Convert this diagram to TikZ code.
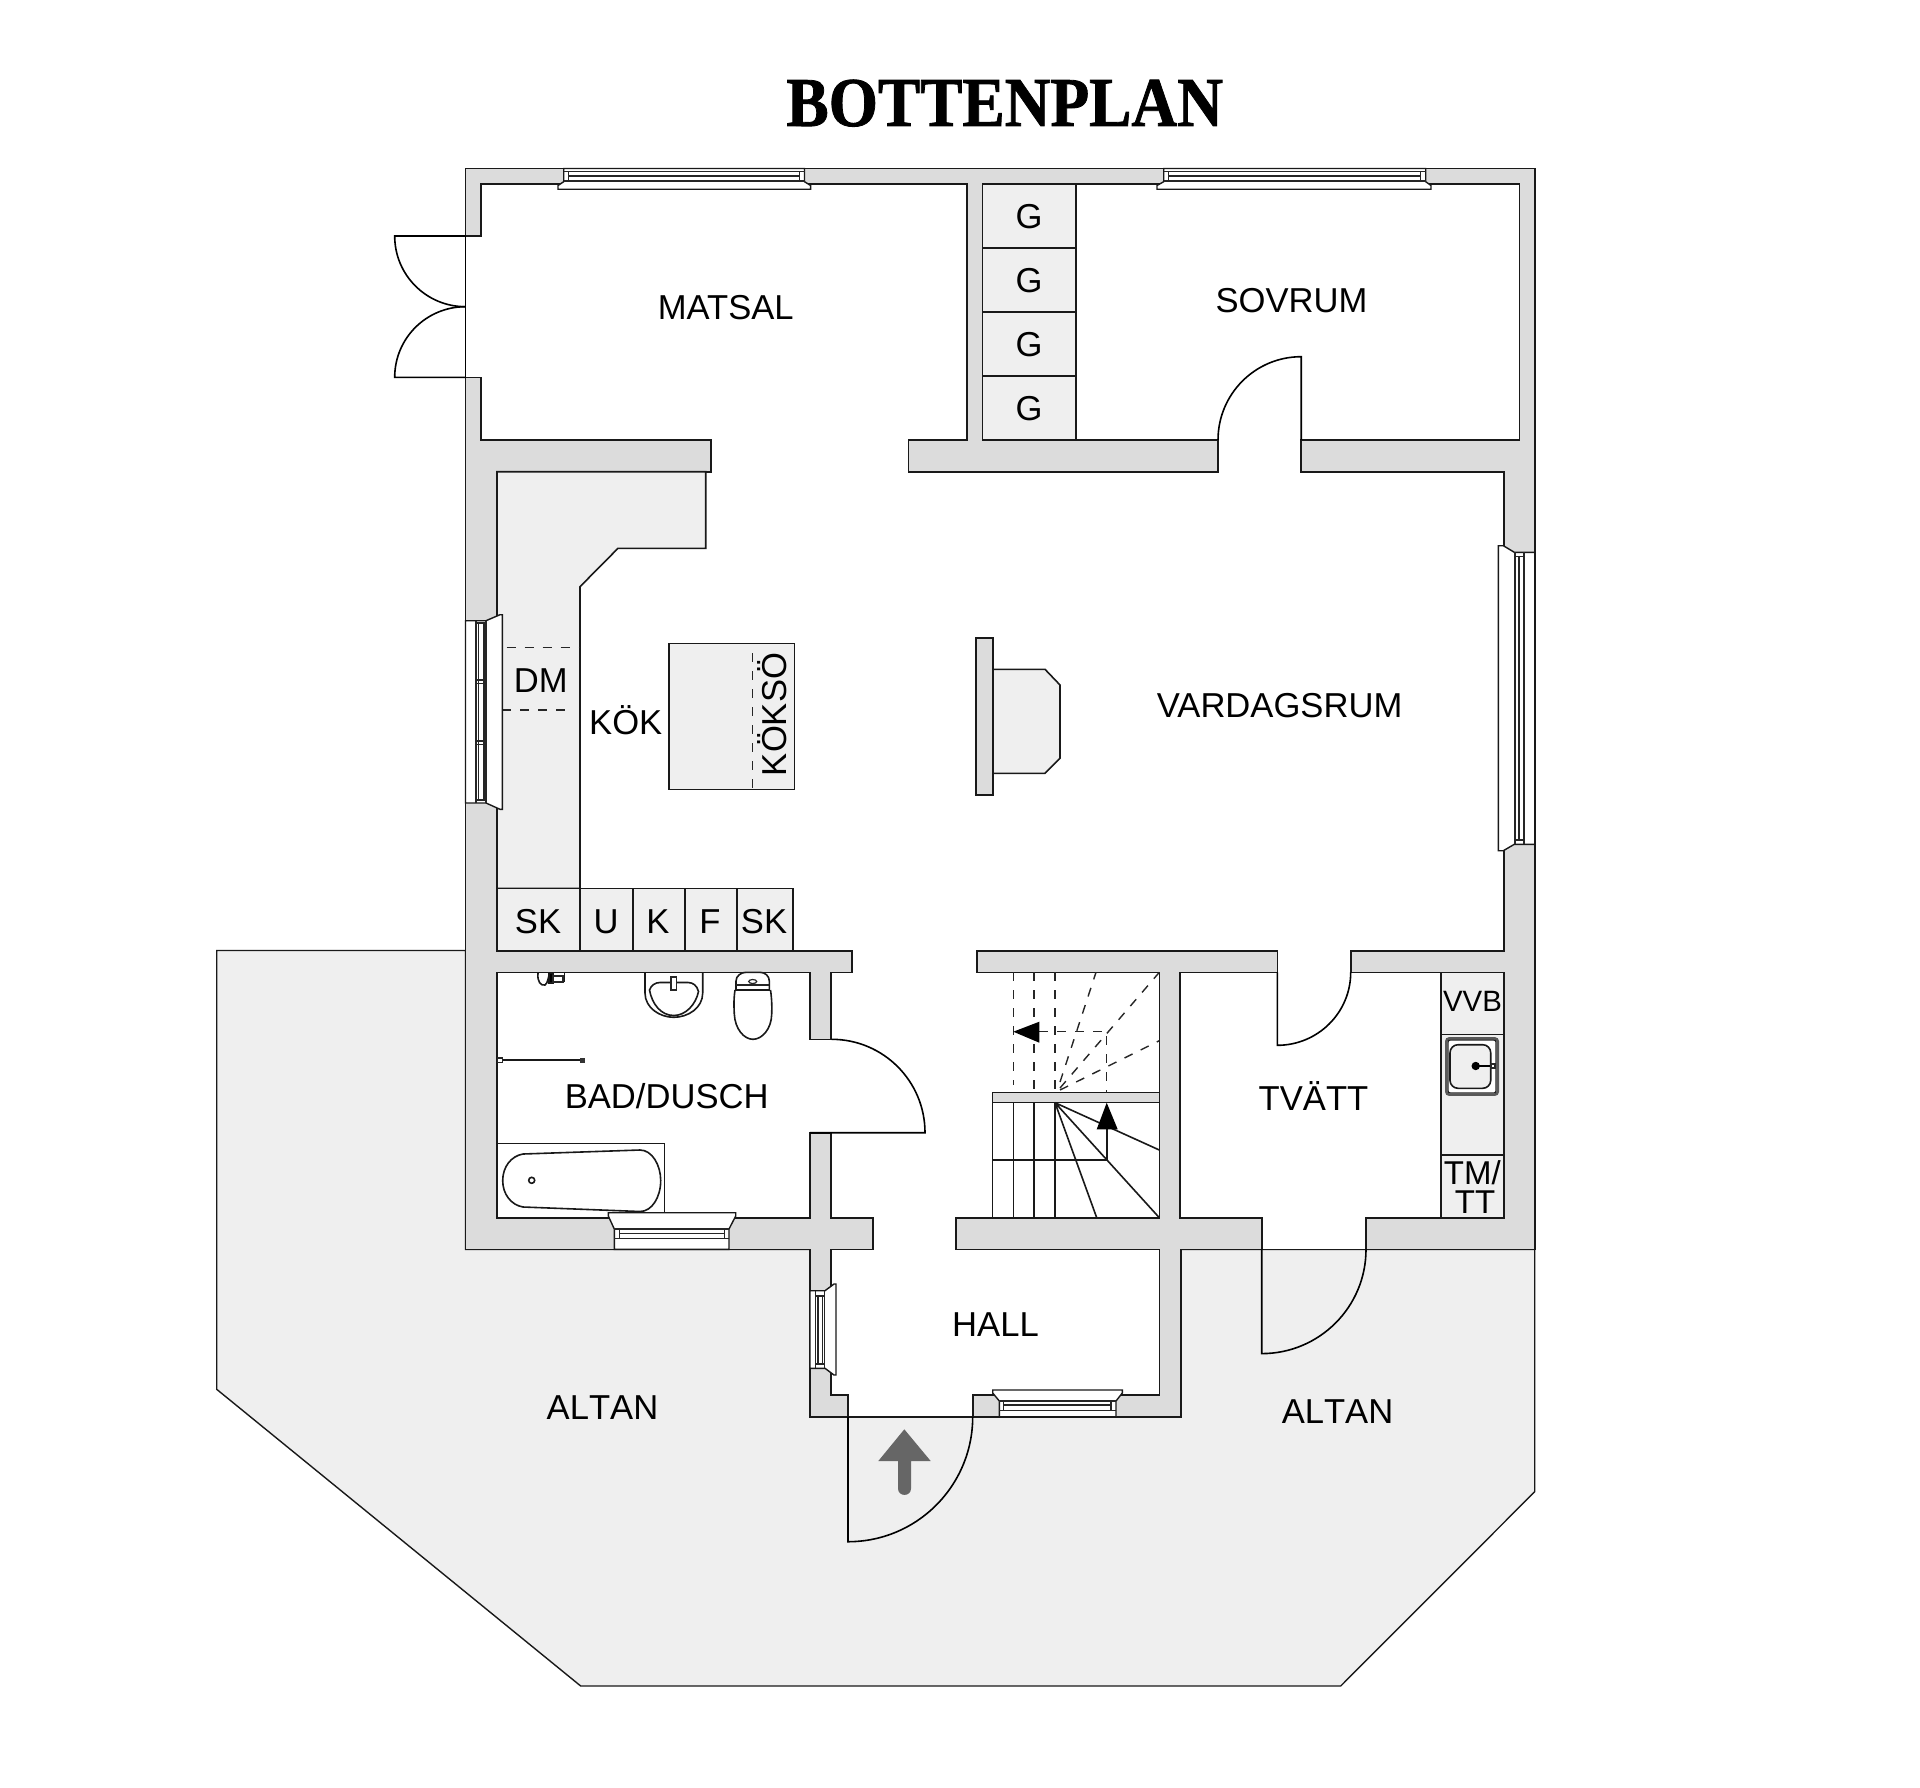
\documentclass[tikz,border=0pt]{standalone}
\usepackage{graphicx}
\usepackage{fontspec}
\setmainfont{Liberation Sans}
\newfontfamily\titlefont{Liberation Serif}[BoldFeatures={FakeBold=1.2}]
\definecolor{wallc}{HTML}{DCDCDC}
\definecolor{fixc}{HTML}{EFEFEF}
\definecolor{arrc}{HTML}{666666}
\tikzset{
  ln/.style={draw=black!90,line width=0.8pt,line join=miter},
  wallshape/.style={ln,fill=wallc},
  room/.style={ln,fill=white},
  fixt/.style={ln,fill=fixc},
  win/.style={ln,fill=white,line width=0.7pt},
  winl/.style={draw=black!85,line width=0.6pt},
  doorl/.style={draw=black,line width=0.8pt},
  dsh/.style={draw=black!85,line width=0.7pt,dash pattern=on 4.5pt off 4.5pt},
  lab/.style={inner sep=0pt,anchor=base,font=\fontsize{17.3}{17.3}\selectfont},
  labs/.style={lab,font=\fontsize{14.7}{14.7}\selectfont},
  labm/.style={lab,font=\fontsize{16.5}{16.5}\selectfont}
}
\begin{document}
\begin{tikzpicture}[x=0.5pt,y=-0.5pt]
\useasboundingbox (0,0) rectangle (1920,1787);
% terrace
\path[ln,fill=fixc,line width=0.7pt] (216.7,950.5) -- (465.5,950.5) -- (465.5,1249.3) -- (1534.7,1249.3) -- (1534.7,1491.7) -- (1340.7,1686) -- (580.7,1686) -- (216.7,1389.3) -- cycle;
% building outline
\path[wallshape] (465.5,168.5) -- (1534.7,168.5) -- (1534.7,1249.3) -- (1180.7,1249.3) -- (1180.7,1416.7) -- (810,1416.7) -- (810,1249.3) -- (465.5,1249.3) -- cycle;
% connected interior spaces
\path[room] (481.2,184) -- (967,184) -- (967,440) -- (908.6,440) -- (908.6,471.7) -- (1218,471.7) -- (1218,440) -- (1076,440) -- (1076,184) -- (1519.6,184) -- (1519.6,440) -- (1301.2,440) -- (1301.2,471.7) -- (1504,471.7) -- (1504,951) -- (1350.7,951) -- (1350.7,972.3) -- (1504,972.3) -- (1504,1217.7) -- (1366,1217.7) -- (1366,1249.3) -- (1261.7,1249.3) -- (1261.7,1217.7) -- (1180,1217.7) -- (1180,972.3) -- (1277.3,972.3) -- (1277.3,951) -- (976.7,951) -- (976.7,972.3) -- (1159.3,972.3) -- (1159.3,1217.7) -- (955.7,1217.7) -- (955.7,1249.3) -- (1159.3,1249.3) -- (1159.3,1395) -- (972.7,1395) -- (972.7,1416.7) -- (848,1416.7) -- (848,1395) -- (830.7,1395) -- (830.7,1249.3) -- (872.7,1249.3) -- (872.7,1217.7) -- (830.7,1217.7) -- (830.7,1132.7) -- (810,1132.7) -- (810,1217.7) -- (496.7,1217.7) -- (496.7,972.3) -- (810,972.3) -- (810,1039.3) -- (830.7,1039.3) -- (830.7,972.3) -- (851.7,972.3) -- (851.7,951) -- (497,951) -- (497,471.7) -- (711,471.7) -- (711,440) -- (481.2,440) -- (481.2,377.3) -- (465.5,377.3) -- (465.5,236) -- (481.2,236) -- cycle;
% closets
\path[fixt] (982.5,184) rectangle (1076,440);
\draw[ln] (982.5,248) -- (1076,248) (982.5,312) -- (1076,312) (982.5,376) -- (1076,376);
% kitchen counter
\path[fixt] (497,471.7) -- (705.7,471.7) -- (705.7,548.3) -- (618,548.3) -- (580,586.7) -- (580,888.3) -- (497,888.3) -- cycle;
\path[fixt] (497,888.3) rectangle (792.7,950.7);
\draw[ln] (580,888.3) -- (580,950.7) (632.7,888.3) -- (632.7,950.7) (684.7,888.3) -- (684.7,950.7) (736.7,888.3) -- (736.7,950.7);
\draw[dsh] (506.7,647.7) -- (580,647.7) (502.3,710) -- (573,710);
% island
\path[fixt] (668.7,643.3) rectangle (794.3,789.3);
\draw[dsh] (752.3,653) -- (752.3,789.3);
% fireplace
\path[fixt] (992.7,669.3) -- (1045,669.3) -- (1060,685) -- (1060,758.3) -- (1045,773.3) -- (992.7,773.3) -- cycle;
\path[wallshape] (976,637.7) rectangle (992.7,794.7);
% windows: north
\path[win] (563.7,168.5) -- (804.5,168.5) -- (804.5,181.7) -- (810.6,185.5) -- (810.6,189.3) -- (558,189.3) -- (558,185.5) -- (563.7,181.7) -- cycle;
\draw[winl] (563.7,171.7) -- (804.5,171.7) (568.6,176) -- (799.6,176) (563.7,181) -- (804.5,181) (568.6,171.7) -- (568.6,181) (799.6,171.7) -- (799.6,181);
\path[win] (1163.7,168.5) -- (1425.7,168.5) -- (1425.7,181.7) -- (1431,185.5) -- (1431,189.3) -- (1157,189.3) -- (1157,185.5) -- (1163.7,181.7) -- cycle;
\draw[winl] (1163.7,171.7) -- (1425.7,171.7) (1168.6,176) -- (1420.8,176) (1163.7,181) -- (1425.7,181) (1168.6,171.7) -- (1168.6,181) (1420.8,171.7) -- (1420.8,181);
% window: west kitchen
\path[win] (465.5,620.7) -- (486,620.7) -- (500,614.7) -- (502.3,614.7) -- (502.3,809.3) -- (500,809.3) -- (486,803) -- (465.5,803) -- cycle;
\draw[winl] (476,620.7) -- (476,803) (486,620.7) -- (486,803) (478.6,623) -- (478.6,800) (484,623) -- (484,800) (476,623) -- (486,623) (476,680) -- (486,680) (476,683.3) -- (486,683.3) (476,741) -- (486,741) (476,744.3) -- (486,744.3) (476,800) -- (486,800);
% window: east living room
\path[win] (1534.7,552.3) -- (1514.3,552.3) -- (1503.3,545.7) -- (1498.3,545.7) -- (1498.3,850.7) -- (1503.3,850.7) -- (1514.3,844.3) -- (1534.7,844.3) -- cycle;
\draw[winl] (1515,552.3) -- (1515,844.3) (1524,552.3) -- (1524,844.3) (1519,556.7) -- (1519,840) (1515,556.7) -- (1524,556.7) (1515,840) -- (1524,840);
% window: bath
\path[win] (614.3,1249.3) -- (729,1249.3) -- (729,1229) -- (735.7,1216) -- (735.7,1212.7) -- (608.3,1212.7) -- (608.3,1216) -- (614.3,1229) -- cycle;
\draw[winl] (614.3,1229) -- (729,1229) (619.3,1233.3) -- (724.3,1233.3) (614.3,1238.3) -- (729,1238.3) (619.3,1229) -- (619.3,1238.3) (724.3,1229) -- (724.3,1238.3);
% window: hall west
\path[win] (810,1290.7) -- (825,1290.7) -- (834,1284) -- (836,1284) -- (836,1375) -- (834,1375) -- (825,1368.3) -- (810,1368.3) -- cycle;
\draw[winl] (815.3,1290.7) -- (815.3,1368.3) (824.8,1290.7) -- (824.8,1368.3) (818,1296) -- (818,1364) (822.5,1296) -- (822.5,1364) (815.3,1296) -- (824.8,1296) (815.3,1364) -- (824.8,1364);
% window: hall south
\path[win] (999.3,1416.7) -- (1116,1416.7) -- (1116,1401) -- (1122.3,1393) -- (1122.3,1390) -- (992.7,1390) -- (992.7,1393) -- (999.3,1401) -- cycle;
\draw[winl] (999.3,1401) -- (1116,1401) (1003.3,1405) -- (1111,1405) (999.3,1410.7) -- (1116,1410.7) (1003.3,1401) -- (1003.3,1410.7) (1111,1401) -- (1111,1410.7);
% doors
\draw[doorl] (465.5,236) -- (465.5,377.3);
\draw[doorl] (465.5,236) -- (394.7,236) .. controls (394.7,275.1) and (426.4,306.7) .. (465.5,306.7);
\draw[doorl] (465.5,377.3) -- (394.7,377.3) .. controls (394.7,338.2) and (426.4,306.7) .. (465.5,306.7);
\draw[doorl] (1301.2,440) -- (1301.2,356.7) .. controls (1255.2,356.7) and (1218,394) .. (1218,440);
\draw[doorl] (810,1132.7) -- (925,1132.7) .. controls (925,1081.1) and (883.2,1039.3) .. (831.6,1039.3);
\draw[doorl] (1277.3,972.3) -- (1277.3,1045.3) .. controls (1317.7,1045.3) and (1350.7,1012.7) .. (1350.7,972.3);
\draw[doorl] (1261.7,1249.3) -- (1261.7,1353.6) .. controls (1319.3,1353.6) and (1366,1307) .. (1366,1249.3);
\draw[doorl] (848,1416.7) -- (848,1541.7) .. controls (917,1541.7) and (972.7,1485.7) .. (972.7,1416.7);
% entry arrow
\fill[arrc] (904.3,1429.3) -- (930.7,1461) -- (911,1461) -- (911,1488.5) .. controls (911,1497) and (898,1497) .. (898,1488.5) -- (898,1461) -- (878.3,1461) -- cycle;
% bathtub
\draw[ln] (496.7,1143.3) -- (664.3,1143.3) -- (664.3,1212.7);
\draw[ln,fill=white] (523,1154) -- (640,1150) .. controls (652,1150) and (660.7,1165) .. (660.7,1180.6) .. controls (660.7,1197) and (652,1211.5) .. (640,1211.5) -- (523,1207) .. controls (511,1205) and (502.7,1194) .. (502.7,1180.6) .. controls (502.7,1167) and (511,1156) .. (523,1154) -- cycle;
\draw[ln] (531.7,1180.3) circle[radius=3];
% washbasin
\draw[ln] (645,972.3) -- (645,993) .. controls (645,1008) and (660,1017.3) .. (673.7,1017.3) .. controls (688,1017.3) and (702.7,1008) .. (702.7,993) -- (702.7,972.3);
\draw[ln] (649.5,990) .. controls (651,985.5) and (655,982.5) .. (660,982.5) -- (688,982.5) .. controls (693,982.5) and (697,985.5) .. (698.5,991.5) .. controls (696,1004) and (686,1015.5) .. (673.7,1015.5) .. controls (661,1015.5) and (652,1004) .. (649.5,990) -- cycle;
\draw[winl,fill=white] (671,977) rectangle (676.5,990);
% toilet
\draw[ln] (736,990) -- (736,981) .. controls (736,976) and (741,972.3) .. (746,972.3) -- (760,972.3) .. controls (765,972.3) and (769.3,976) .. (769.3,981) -- (769.3,990) -- cycle;
\draw[winl] (736,985) -- (769.3,985);
\draw[ln] (735,990) .. controls (733.5,1000) and (734,1008) .. (734.3,1014) .. controls (735,1029) and (744,1039.3) .. (753,1039.3) .. controls (762,1039.3) and (771.5,1029) .. (771.7,1014) .. controls (771.9,1008) and (772,1000) .. (770.5,990);
\draw[winl] (752.7,981.5) ellipse[x radius=4,y radius=2];
% shower mixer
\draw[ln] (538,973) .. controls (537,982) and (541,986) .. (545,985) .. controls (548,983) and (548,977) .. (550,973);
\draw[ln,fill=black] (549,973) rectangle (553,983);
\draw[winl] (553,976) rectangle (563,982);
\draw[ln] (564.5,973) -- (564.5,982);
% shower rail
\draw[ln,line width=1pt] (500,1060.3) -- (582.7,1060.3);
\draw[winl,fill=white,line width=0.8pt] (497.5,1058) rectangle (502.5,1062.6);
\path[fill=black!80] (580,1058) rectangle (585.3,1062.6);
% stairs
\path[wallshape,line width=0.7pt] (992.3,1092.7) rectangle (1159.3,1102.7);
\draw[ln] (992.3,1102.7) -- (992.3,1217.7);
\draw[ln] (1013.3,1102.7) -- (1013.3,1217.7) (1034,1102.7) -- (1034,1217.7) (1055,1102.7) -- (1055,1217.7);
\draw[ln] (992.3,1160) -- (1106.7,1160) -- (1106.7,1129.3);
\draw[ln] (1055,1102.7) -- (1096.7,1217.7) (1055,1102.7) -- (1159.3,1217.7) (1055,1102.7) -- (1159.3,1150);
\fill[black] (1106.7,1102.7) -- (1117.7,1129.3) -- (1096.7,1129.3) -- cycle;
\draw[dsh] (1013.3,972.3) -- (1013.3,1085) (1034,972.3) -- (1034,1092.7) (1055,972.3) -- (1055,1092.7);
\draw[dsh] (1060,1082) -- (1096,972.3) (1060,1088) -- (1159.3,972.3) (1060,1090) -- (1159.3,1040.7);
\draw[dsh] (1039.3,1031.7) -- (1106.7,1031.7) -- (1106.7,1092.7);
\fill[black] (1013.3,1031.7) -- (1039.3,1021.7) -- (1039.3,1042.7) -- cycle;
% laundry counter
\path[fixt] (1441,972.3) rectangle (1504,1217.7);
\draw[ln] (1441,1034.3) -- (1504,1034.3) (1441,1155) -- (1504,1155);
\draw[ln,draw=black!65,line width=1.2pt,rounded corners=1.5pt,fill=white] (1446.2,1038.3) rectangle (1497.8,1094.7);
\draw[winl,line width=0.7pt,rounded corners=1pt] (1448,1040) rectangle (1496,1093);
\draw[ln,rounded corners=4pt,fill=fixc] (1450,1044.7) rectangle (1490.7,1088.3);
\draw[draw=black,line width=1.2pt] (1475.7,1066) -- (1491,1066);
\fill[black] (1475.7,1066) circle[radius=4.2];
\draw[winl,fill=white] (1491,1064) rectangle (1495,1068);
% labels
\node[inner sep=0pt,anchor=base] (title) at (1004.7,126) {\fontsize{35}{35}\selectfont\titlefont\bfseries\scalebox{0.905}[1]{BOTTENPLAN}};
\node[lab] (matsal) at (725.7,319) {MATSAL};
\node[lab] (sovrum) at (1291.5,312.3) {SOVRUM};
\node[lab] (g1) at (1029,228.3) {G};
\node[lab] (g2) at (1029,292.3) {G};
\node[lab] (g3) at (1029,356.3) {G};
\node[lab] (g4) at (1029,420.3) {G};
\node[lab] (dm) at (540.7,692.7) {DM};
\node[lab] (kok) at (625.7,734.3) {KÖK};
\node[lab,rotate=90] (koksoe) at (786,714.5) {KÖKSÖ};
\node[lab] (vardag) at (1279.6,717.7) {VARDAGSRUM};
\node[lab] (sk1) at (538,933.7) {SK};
\node[lab] (u) at (606,933.7) {U};
\node[lab] (k) at (658,933.7) {K};
\node[lab] (f) at (710,933.7) {F};
\node[lab] (sk2) at (764,933.7) {SK};
\node[lab] (bad) at (666.7,1108.7) {BAD/DUSCH};
\node[lab] (tvatt) at (1313.5,1110.7) {TVÄTT};
\node[labs] (vvb) at (1472.5,1011) {VVB};
\node[labm] (tm) at (1472.3,1184.3) {TM/};
\node[labm] (tt) at (1475,1213.3) {TT};
\node[lab] (hall) at (995.5,1336.7) {HALL};
\node[lab] (altan1) at (602.5,1419) {\addfontfeature{Kerning=Off}ALTAN};
\node[lab] (altan2) at (1337.5,1423) {\addfontfeature{Kerning=Off}ALTAN};
\end{tikzpicture}
\end{document}
